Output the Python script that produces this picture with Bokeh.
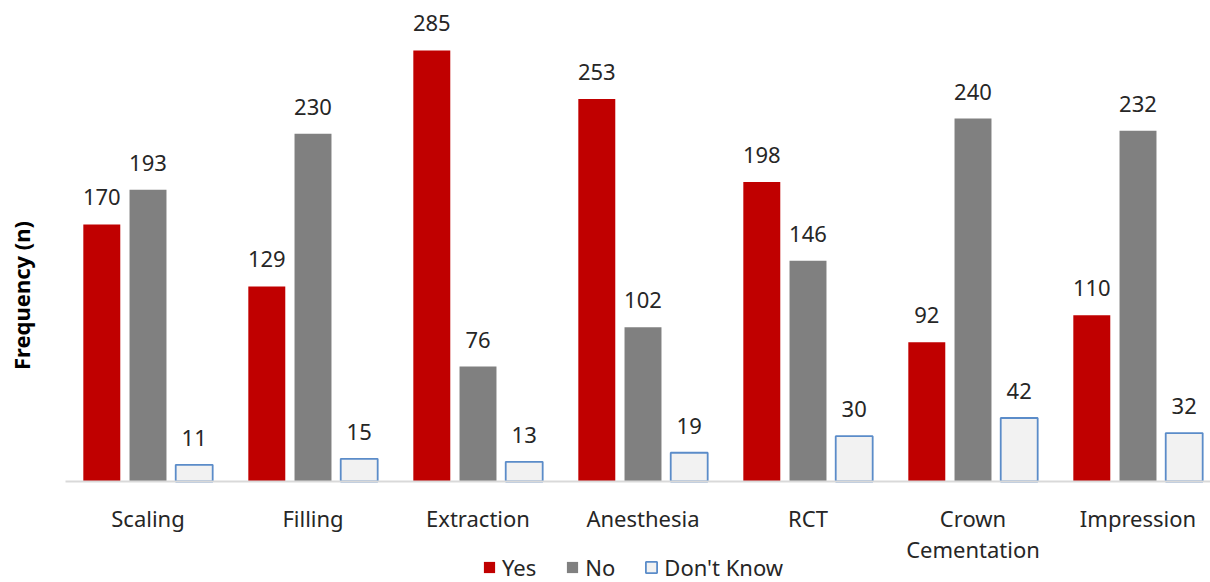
import math
from bokeh.plotting import figure
from bokeh.models import (ColumnDataSource, Range1d, Legend, LegendItem, Label)
from bokeh.transform import dodge
from bokeh.core.properties import value
from bokeh.embed import file_html
from bokeh.resources import INLINE

categories = ["Scaling", "Filling", "Extraction", "Anesthesia", "RCT", "Crown\nCementation", "Impression"]
yes = [170, 129, 285, 253, 198, 92, 110]
no = [193, 230, 76, 102, 146, 240, 232]
dont_know = [11, 15, 13, 19, 30, 42, 32]
series_names = ["Yes", "No", "Don't Know"]

pos = [i + 0.5 for i in range(len(categories))]
src = ColumnDataSource(dict(
    x=pos, yes=yes, no=no, dk=dont_know, base=[0] * len(pos), cat=categories,
    yes_t=[str(v) for v in yes], no_t=[str(v) for v in no], dk_t=[str(v) for v in dont_know],
))

FONT = "Noto Sans"
TXT = "#262626"
PXU = 1.5123  # pixels per count (frame scale)

p = figure(width=1210, height=582, output_backend="svg", toolbar_location=None,
           x_range=Range1d(-65 / 165, 1145 / 165), y_range=Range1d(-101 / PXU, 481 / PXU),
           x_axis_location=None, y_axis_location=None,
           min_border_left=0, min_border_right=0, min_border_top=0, min_border_bottom=0)
p.grid.visible = False
p.outline_line_color = None
p.background_fill_color = "white"

off = 0.28
w = 0.224
r_yes = p.vbar(x=dodge("x", -off, range=p.x_range), top="yes", width=w, source=src,
               fill_color="#c00000", line_color=None)
r_no = p.vbar(x=dodge("x", 0, range=p.x_range), top="no", width=w, source=src,
              fill_color="#808080", line_color=None)
r_dk = p.vbar(x=dodge("x", off, range=p.x_range), top="dk", width=w, source=src,
              fill_color="#f2f2f2", line_color="#5b8cc9", line_width=1.8)

# category axis baseline and labels
p.segment(x0=[0], x1=[len(categories)], y0=[0], y1=[0], line_color="#d9d9d9", line_width=2)
p.text(x="x", y="base", text="cat", source=src, text_align="center", text_baseline="top",
       y_offset=21, text_line_height=1.05, text_font=value(FONT), text_font_size="22px",
       text_color=TXT)

for col, o in (("yes", -off), ("no", 0), ("dk", off)):
    p.text(x=dodge("x", o, range=p.x_range), y=col, text=col + "_t", source=src,
           text_align="center", text_baseline="alphabetic", y_offset=-27,
           text_font=value(FONT), text_font_size="22px", text_color=TXT)

p.add_layout(Label(x=-0.272, y=123, text="Frequency (n)", angle=math.pi / 2,
                   text_align="center", text_baseline="middle", text_font=FONT,
                   text_font_size="22px", text_font_style="bold", text_color="#000000"))

legend = Legend(items=[LegendItem(label=series_names[0], renderers=[r_yes]),
                       LegendItem(label=series_names[1], renderers=[r_no]),
                       LegendItem(label=series_names[2], renderers=[r_dk])],
                location=(482, 0), orientation="horizontal",
                glyph_width=14, glyph_height=14, label_height=20, label_standoff=6,
                spacing=29, padding=0, margin=0,
                label_text_font=FONT, label_text_font_size="22px", label_text_color=TXT,
                background_fill_alpha=0, border_line_alpha=0)
p.add_layout(legend, "center")

open("out.html", "w").write(file_html(p, INLINE))
